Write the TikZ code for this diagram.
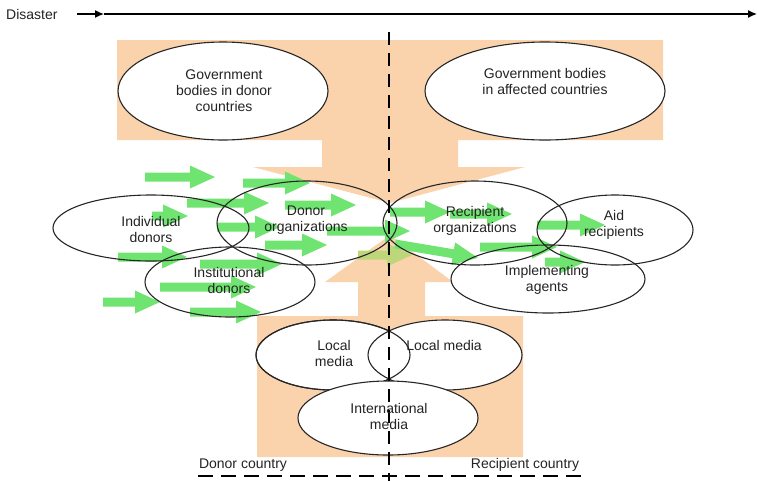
\documentclass[tikz,border=0pt]{standalone}
\usepackage{fontspec}
\setmainfont{Liberation Sans}
\usetikzlibrary{shapes.geometric,arrows.meta}
\definecolor{peach}{RGB}{250,211,172}
\definecolor{garrow}{RGB}{112,228,112}
\definecolor{garrowy}{RGB}{190,214,122}
\definecolor{txt}{RGB}{35,35,35}
\newcommand\garr[4][garrow]{%
  \fill[#1] (#2,#4-4.5) -- (#3-25,#4-4.5) -- (#3-25,#4-11.5) -- (#3,#4)
    -- (#3-25,#4+11.5) -- (#3-25,#4+4.5) -- (#2,#4+4.5) -- cycle;}
\tikzset{
  ell/.style={ellipse, inner sep=0pt, outer sep=0pt, draw=black!85, line width=1.1pt},
  lbl/.style={font=\fontsize{14}{16}\selectfont, text=txt, align=center, inner sep=0pt},
  divline/.style={line width=2.6pt, black, dash pattern=on 13pt off 8pt},
  hdivline/.style={line width=2.6pt, black, dash pattern=on 15pt off 8pt},
}
\begin{document}
\begin{tikzpicture}[x=1pt,y=-1pt]
\useasboundingbox (0,0) rectangle (757,480);

% peach background flows
\fill[peach] (117,40) -- (663,40) -- (663,140) -- (458,140) -- (458,167) -- (525,167)
  -- (390,203) -- (253,167) -- (322,167) -- (322,140) -- (117,140) -- cycle;
\fill[peach] (257,316) -- (358,316) -- (358,282) -- (325,282) -- (390,235) -- (453,282)
  -- (425,282) -- (425,316) -- (523,316) -- (523,457) -- (257,457) -- cycle;

% white ellipses
\node[ell, minimum width=210pt, minimum height=98pt, fill=white] (gd) at (223,91) {};
\node[ell, minimum width=240pt, minimum height=98pt, fill=white] (ga) at (545,91) {};
\node[ell, minimum width=154pt, minimum height=70pt, fill=white] (lml) at (333,355) {};
\node[ell, minimum width=154pt, minimum height=70pt, fill=white] (lmr) at (445,355) {};
\draw[draw=black!85, line width=1.1pt] (lml.center) ellipse [x radius=77pt, y radius=35pt];
\node[ell, minimum width=180pt, minimum height=74pt, fill=white] (intl) at (388,418) {};

% green flow arrows
\garr{145}{215}{177}
\garr{243}{310}{183}
\garr{187}{269}{203}
\garr{285}{356}{205}
\garr{152}{188}{216}
\garr{217}{280}{227}
\garr{327}{410}{231}
\garr{265}{327}{245}
\garr{118}{187}{257}
\garr{200}{282}{264}
\garr{160}{256}{287}
\garr{103}{160}{302}
\garr{190}{261}{312}
\garr[garrowy]{358}{412}{255}
\garr{390}{450}{212}
\garr{450}{512}{214}
\begin{scope}[shift={(395,244)},rotate=-9.5]
  \garr{0}{84}{0}
\end{scope}
\garr{480}{557}{247}
\garr{537}{605}{225}
\garr{545}{585}{262}

% transparent ellipses in the middle
\node[ell, minimum width=196pt, minimum height=66pt] (ind) at (151,228) {};
\node[ell, minimum width=180pt, minimum height=84pt] (dorg) at (307,223) {};
\node[ell, minimum width=170pt, minimum height=70pt] (inst) at (230,282) {};
\node[ell, minimum width=184pt, minimum height=84pt] (rorg) at (475,223) {};
\node[ell, minimum width=156pt, minimum height=70pt] (aid) at (615,230) {};
\node[ell, minimum width=194pt, minimum height=68pt] (impl) at (548,279) {};

% timeline
\node[lbl, anchor=west] (dis) at (6,14) {Disaster};
\coordinate (t0) at (77,14);
\coordinate (tm) at (104,14);
\coordinate (t1) at (757,14);
\draw[line width=1.3pt, -{Latex[length=9pt,width=8pt]}] (t0) -- (tm);
\draw[line width=1.3pt, -{Latex[length=9pt,width=8pt]}] (tm) -- (t1);

% country dividers
\coordinate (vtop) at (389,32);
\coordinate (vbot) at (389,482);
\draw[divline] (vtop) -- (vbot);
\coordinate (hl) at (198,476);
\coordinate (hr) at (586,476);
\draw[hdivline] (hl) -- (hr);

% labels
\node[lbl] (tgd) at (224,91) {Government\\bodies in donor\\countries};
\node[lbl] (tga) at (545,81) {Government bodies\\in affected countries};
\node[lbl] (tind) at (151,229) {Individual\\donors};
\node[lbl] (tdorg) at (306,220) {Donor\\organizations};
\node[lbl] (tinst) at (229,280) {Institutional\\donors};
\node[lbl] (trorg) at (475,221) {Recipient\\organizations};
\node[lbl] (taid) at (614,225) {Aid\\recipients};
\node[lbl] (timpl) at (547,280) {Implementing\\agents};
\node[lbl] (tlml) at (334,353) {Local\\media};
\node[lbl] (tlmr) at (444,345) {Local media};
\node[lbl] (tintl) at (389,416) {International\\media};
\node[lbl] (tdc) at (243,465) {Donor country};
\node[lbl] (trc) at (525,465) {Recipient country};
\end{tikzpicture}
\end{document}
